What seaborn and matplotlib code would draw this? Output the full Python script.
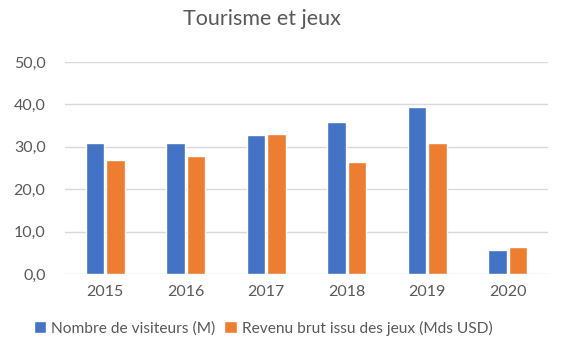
import matplotlib.pyplot as plt
import seaborn as sns
import pandas as pd
from matplotlib.ticker import FuncFormatter

# données
annees = ['2015', '2016', '2017', '2018', '2019', '2020']
visiteurs = [30.8, 31.0, 32.7, 35.8, 39.5, 5.7]
revenu = [26.8, 27.9, 33.1, 26.5, 30.8, 6.4]
series = ['Nombre de visiteurs (M)', 'Revenu brut issu des jeux (Mds USD)']
couleurs = ['#4472C4', '#ED7D31']

df = pd.DataFrame({
    'annee': annees * 2,
    'valeur': visiteurs + revenu,
    'serie': [series[0]] * len(annees) + [series[1]] * len(annees),
})

sns.set_style("white")
plt.rcParams['font.family'] = ['Lato', 'DejaVu Sans']

fig = plt.figure(figsize=(5.7, 3.59), dpi=100)
ax = fig.add_axes([65 / 570, 85 / 359, 483 / 570, 212 / 359])

sns.barplot(data=df, x='annee', y='valeur', hue='serie', palette=couleurs,
            width=0.51, gap=0.12, ax=ax, saturation=1)

ax.set_ylim(0, 50)
ax.set_yticks([0, 10, 20, 30, 40, 50])
ax.yaxis.set_major_formatter(FuncFormatter(lambda v, p: f"{v:.1f}".replace('.', ',')))
ax.grid(axis='y', color='#d9d9d9', linewidth=1)
ax.set_axisbelow(True)
for s in ax.spines.values():
    s.set_visible(False)
ax.set_xlabel('')
ax.set_ylabel('')
ax.tick_params(axis='both', length=0, labelsize=11.5, colors='#595959', pad=8)
ax.tick_params(axis='y', pad=14)

fig.suptitle('Tourisme et jeux', x=262 / 570, y=0.975, fontsize=15.5, color='#595959')

handles, labels = ax.get_legend_handles_labels()
ax.get_legend().remove()
fig.legend(handles, labels, loc='center', bbox_to_anchor=(263 / 570, 1 - 328 / 359), ncol=2,
           frameon=False, fontsize=11.2, handlelength=0.8, handleheight=0.8,
           handletextpad=0.3, columnspacing=0.6, labelcolor='#595959')

plt.savefig('out.png', dpi=100)
